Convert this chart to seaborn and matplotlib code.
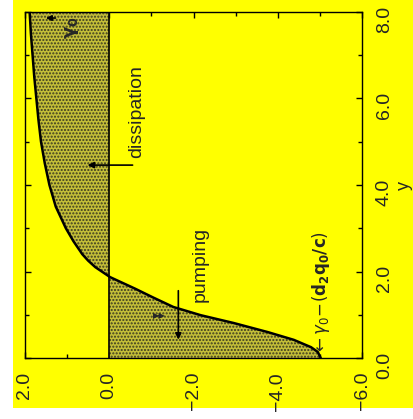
import matplotlib
matplotlib.use("Agg")
import matplotlib.pyplot as plt
import seaborn as sns
import pandas as pd
from matplotlib.patches import Rectangle
from matplotlib.ticker import MultipleLocator, FuncFormatter

sns.set_style("ticks")
plt.rcParams['font.family'] = ['Liberation Sans', 'DejaVu Sans']

ypos = [0.0, 0.14, 0.25, 0.42, 0.60, 0.81, 0.99, 1.18, 1.40, 1.60, 1.87, 2.10,
        2.25, 2.40, 2.70, 3.00, 3.50, 4.00, 4.50, 5.00, 5.50, 6.00, 6.50, 7.00,
        7.50, 8.00]
fval = [-5.02, -4.95, -4.79, -4.38, -3.76, -2.95, -2.17, -1.52, -1.04, -0.62,
        -0.02, 0.33, 0.50, 0.64, 0.85, 1.03, 1.27, 1.42, 1.53, 1.62, 1.68, 1.73,
        1.78, 1.82, 1.86, 1.89]

df = pd.DataFrame({'y': ypos, 'f': fval})

fig = plt.figure(figsize=(4.13, 4.19), dpi=100)
fig.patch.set_facecolor('white')
fig.patches.append(Rectangle((13/413, 11/419), 1, 1, transform=fig.transFigure,
                             facecolor='#ffff00', edgecolor='none', zorder=-10))

ax = fig.add_axes([25/413, 61/419, 337/413, 346/419])
ax.set_facecolor('#ffff00')

ax.fill_betweenx(df['y'], df['f'], 0, facecolor='#c4be38', edgecolor='#3a3a20',
                 hatch='.....', linewidth=0, zorder=1)
sns.lineplot(data=df, x='f', y='y', orient='y', sort=False, color='black',
             linewidth=1.8, ax=ax, zorder=3)
ax.axvline(0, color='black', linewidth=1.2, zorder=2)

ax.set_xlim(2, -6)
ax.set_ylim(0, 8)

fmt = FuncFormatter(lambda v, p: f'{v:.1f}'.replace('-', '\u2212'))
for axis in (ax.xaxis, ax.yaxis):
    axis.set_major_locator(MultipleLocator(2))
    axis.set_minor_locator(MultipleLocator(1))
    axis.set_major_formatter(fmt)

ax.tick_params(which='both', direction='in', top=True, bottom=True, left=True,
               right=True, labelleft=False, labelright=True, labelsize=14,
               color='black')
ax.tick_params(which='major', length=4, width=1)
ax.tick_params(which='minor', length=3, width=1)
ax.tick_params(axis='x', labelrotation=90, pad=10)
ax.tick_params(axis='y', labelrotation=90, pad=10)

for s in ax.spines.values():
    s.set_color('black')
    s.set_linewidth(1.0)

ax.set_xlabel('')
ax.yaxis.set_label_position('right')
ax.set_ylabel('y', rotation=90, fontsize=13, labelpad=2)

ax.text(-0.64, 5.69, 'dissipation', rotation=90, fontsize=14,
        ha='center', va='center')
ax.annotate('', xy=(0.58, 4.46), xytext=(-0.62, 4.46),
            arrowprops=dict(arrowstyle='-|>', color='black', lw=1.2,
                            mutation_scale=9))

ax.text(-2.17, 2.17, 'pumping', rotation=90, fontsize=14,
        ha='center', va='center')
ax.annotate('', xy=(-1.64, 0.36), xytext=(-1.64, 1.62),
            arrowprops=dict(arrowstyle='-|>', color='black', lw=1.2,
                            mutation_scale=9))
ax.text(-1.19, 0.99, '\u25b6\u25b6', fontsize=6, ha='center', va='center',
        family='DejaVu Sans')

ax.text(0.88, 7.63, r'$\mathbf{\gamma_0}$', rotation=90, fontsize=13,
        ha='center', va='center')
ax.annotate('', xy=(1.57, 7.86), xytext=(1.21, 7.86),
            arrowprops=dict(arrowstyle='-|>', color='black', lw=1.2,
                            mutation_scale=8))

ax.text(-5.02, 1.5, r'$\leftarrow\gamma_0\!-\!(\mathbf{d_2q_0/c})$',
        rotation=90, fontsize=12, ha='center', va='center')

fig.savefig('out.png', dpi=100, facecolor=fig.get_facecolor())
